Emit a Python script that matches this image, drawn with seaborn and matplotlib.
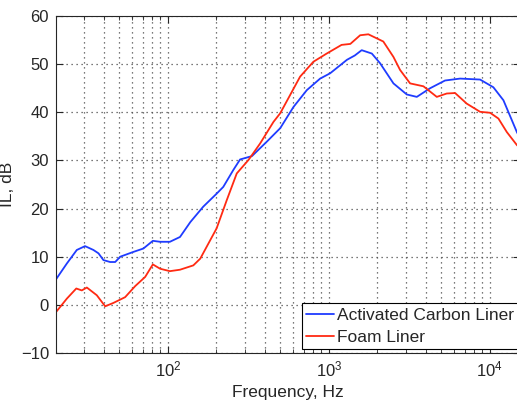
import numpy as np
import pandas as pd
import seaborn as sns
import matplotlib
matplotlib.use("Agg")
import matplotlib.pyplot as plt
from matplotlib.ticker import LogLocator, NullFormatter

# insertion loss curves
freq_carbon = [20.2, 23.6, 27.2, 30.6, 34.5, 37.1, 39.8, 43.8, 47.1, 50.6, 61.1, 70.5,
               80.7, 89.6, 103, 119, 138, 166, 201, 221, 255, 281, 333, 412, 499,
               603, 730, 883, 1019, 1296, 1450, 1600, 1850, 2080, 2520, 3050, 3520,
               4260, 5270, 6540, 8700, 10520, 12150, 14720, 15500]
il_carbon = [5.3, 8.6, 11.4, 12.2, 11.4, 10.7, 9.3, 8.9, 8.9, 10.0, 11.0, 11.7,
             13.3, 13.1, 13.1, 14.1, 17.2, 20.4, 23.1, 24.5, 28.0, 30.2, 30.9, 33.9, 36.7,
             41.1, 44.6, 47.0, 48.1, 50.9, 51.8, 52.9, 52.2, 50.2, 46.0, 43.7, 43.2,
             45.0, 46.6, 47.0, 46.8, 45.2, 42.5, 35.9, 34.5]

freq_foam = [20.2, 23.6, 27.0, 29.2, 31.4, 36.2, 40.8, 45.9, 54.3, 62.7, 72.3,
             80.7, 89.6, 103, 119, 144, 159, 201, 232, 268, 317, 374, 453, 499,
             663, 802, 970, 1200, 1360, 1565, 1760, 2180, 2520, 2770, 3198,
             3870, 4684, 5402, 6087, 7189, 8703, 10040, 11310, 12750, 14720, 15500]
il_foam = [-1.5, 1.3, 3.4, 3.0, 3.6, 2.0, -0.3, 0.4, 1.6, 3.9, 5.8,
           8.4, 7.5, 7.0, 7.3, 8.2, 9.6, 15.9, 21.7, 27.3, 30.1, 33.5, 38.0, 39.8,
           47.4, 50.5, 52.2, 54.0, 54.2, 56.0, 56.2, 54.7, 51.5, 48.8, 46.0,
           45.4, 43.2, 43.9, 44.0, 41.8, 40.1, 39.9, 38.7, 35.9, 33.2, 32.5]

labels = ["Activated Carbon Liner", "Foam Liner"]
colors = ["#1f3cff", "#ff2a12"]

df = pd.concat([
    pd.DataFrame({"freq": freq_carbon, "il": il_carbon, "liner": labels[0]}),
    pd.DataFrame({"freq": freq_foam, "il": il_foam, "liner": labels[1]}),
])

sns.set_style("ticks")
plt.rcParams["font.family"] = ["Liberation Sans", "DejaVu Sans"]
plt.rcParams["mathtext.fontset"] = "custom"
plt.rcParams["mathtext.rm"] = "Liberation Sans"

fig = plt.figure(figsize=(5.17, 4.05), dpi=100)
ax = fig.add_axes([56 / 517, 52 / 405, 464 / 517, 337 / 405])

sns.lineplot(data=df, x="freq", y="il", hue="liner", palette=colors,
             estimator=None, sort=True, linewidth=1.3, ax=ax)

ax.set_xscale("log")
ax.set_xlim(20.2, 15400)
ax.set_ylim(-10, 60)
ax.set_yticks(range(-10, 61, 10))
ax.xaxis.set_minor_locator(LogLocator(base=10, subs=np.arange(2, 10)))
ax.xaxis.set_minor_formatter(NullFormatter())

# matlab-ish sparse dotted grid
grid_style = dict(linestyle=(0, (1, 3)), color="0.3", linewidth=0.9)
ax.grid(True, which="major", axis="both", **grid_style)
ax.grid(True, which="minor", axis="x", **grid_style)

ax.tick_params(which="both", direction="in", top=True, right=True, labelsize=12)
ax.tick_params(which="major", length=5, pad=5)
ax.tick_params(which="minor", length=3)
for s in ax.spines.values():
    s.set_linewidth(0.8)

ax.set_xlabel("Frequency, Hz", fontsize=12.5)
ax.set_ylabel("IL, dB", fontsize=12.5)

handles, _ = ax.get_legend_handles_labels()
leg = ax.legend(handles, labels, loc="lower left", bbox_to_anchor=(0.53, 0.012),
                fontsize=12.5, fancybox=False, framealpha=1, edgecolor="black",
                handlelength=1.6, borderaxespad=0, borderpad=0.25, labelspacing=0.38,
                handletextpad=0.17)
leg.get_frame().set_linewidth(0.8)

fig.savefig("out.png", dpi=100)
